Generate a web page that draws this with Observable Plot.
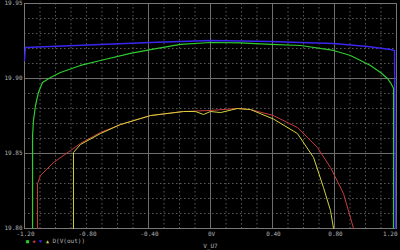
<!DOCTYPE html>
<html>
<head>
<meta charset="utf-8">
<script src="https://cdn.jsdelivr.net/npm/d3@7"></script>
<script src="https://cdn.jsdelivr.net/npm/@observablehq/plot@0.6"></script>
<style>
  html, body { margin: 0; padding: 0; background: #000; }
  #chart { position: relative; width: 400px; height: 250px; overflow: hidden; }
</style>
</head>
<body>
<div id="chart"></div>
<script>
// ---- Data ----
const greenX = [-1.148,-1.148,-1.142,-1.129,-1.110,-1.084,-1.032,-0.968,-0.839,-0.710,-0.516,-0.387,-0.194,0,0.194,0.387,0.581,0.794,0.903,0.968,1.032,1.097,1.142,1.161,1.181,1.181];
const greenY = [19.800,19.862,19.872,19.882,19.8907,19.8973,19.9007,19.904,19.9087,19.912,19.9167,19.9193,19.9227,19.924,19.9237,19.9227,19.922,19.9187,19.9153,19.912,19.9087,19.904,19.900,19.8973,19.8933,19.800];

const blueX = [-1.2,-1.194,-1.032,-0.710,-0.387,0,0.387,0.581,0.794,1.013,1.161,1.187,1.194];
const blueY = [19.912,19.9207,19.9213,19.9227,19.924,19.9253,19.9247,19.924,19.9233,19.9213,19.9193,19.9187,19.800];

const redX = [-1.116,-1.116,-1.097,-1.013,-0.903,-0.839,-0.710,-0.581,-0.387,-0.174,0,0.174,0.258,0.406,0.561,0.690,0.774,0.858,0.923];
const redY = [19.800,19.830,19.8353,19.844,19.852,19.8567,19.864,19.8693,19.8753,19.878,19.8787,19.880,19.8793,19.8753,19.8673,19.854,19.8407,19.8233,19.800];

const yellowX = [-0.884,-0.884,-0.839,-0.710,-0.581,-0.387,-0.174,-0.097,-0.045,0,0.065,0.174,0.258,0.406,0.561,0.665,0.729,0.774,0.794];
const yellowY = [19.800,19.8507,19.856,19.8633,19.8693,19.8753,19.878,19.878,19.876,19.878,19.8773,19.880,19.8793,19.873,19.8633,19.8473,19.8273,19.812,19.800];

const xTicks = [-1.2,-0.8,-0.4,0,0.4,0.8,1.2];
const xTickLabels = ["-1.20","-0.80","-0.40","0V","0.40","0.80","1.20"];
const yTicks = [19.80,19.85,19.90,19.95];
const yTickLabels = ["19.80","19.85","19.90","19.95"];
const xMajorGrid = [-0.4,0,0.4,0.8];
const yMajorGrid = [19.85,19.90];

const xLabel = "V_U7";
const legendSymbols = ["■","◆","▼","▲"];
const legendText = "D(V(out))";

// ---- Build ----
const colors = {green:"#2fcc2f", red:"#c83c3c", blue:"#3a26ee", yellow:"#d2d23c"};
const toPts = (xs, ys) => xs.map((x,i)=>({x, y: ys[i]}));
const xMap = new Map(xTicks.map((t,i)=>[t, xTickLabels[i]]));
const yMap = new Map(yTicks.map((t,i)=>[t, yTickLabels[i]]));
const xMinor = d3.range(-12, 13).map(k => k/10);
const yMinor = d3.range(1980, 1996).map(k => k/100);
const xTicksInner = xTicks.slice(0, -1);
const xTickLast = xTicks.slice(-1);

const plot = Plot.plot({
  width: 400,
  height: 250,
  marginLeft: 24,
  marginRight: 4,
  marginTop: 3,
  marginBottom: 22,
  style: {background: "#000", color: "#b4b4b4", fontFamily: "'DejaVu Sans Mono', monospace", fontSize: "6px"},
  x: {domain: [-1.2, 1.2], label: null},
  y: {domain: [19.80, 19.95], label: null},
  marks: [
    Plot.ruleX(xMinor, {stroke: "#5a5a5a", strokeDasharray: "1.5,2.5", strokeWidth: 1}),
    Plot.ruleY(yMinor, {stroke: "#5a5a5a", strokeDasharray: "1.5,2.5", strokeWidth: 1}),
    Plot.ruleX(xMajorGrid, {stroke: "#6e6e6e", strokeWidth: 1}),
    Plot.ruleY(yMajorGrid, {stroke: "#6e6e6e", strokeWidth: 1}),
    Plot.frame({stroke: "#777"}),
    Plot.axisX(xTicksInner, {tickSize: 0, tickPadding: 3, label: null, tickFormat: d => xMap.get(d), fill: "#b4b4b4", textAnchor: "middle", dx: 1}),
    Plot.axisX(xTickLast, {tickSize: 0, tickPadding: 3, label: null, tickFormat: d => xMap.get(d), fill: "#b4b4b4", textAnchor: "end", dx: 1}),
    Plot.axisY(yTicks, {tickSize: 0, tickPadding: 2, label: null, tickFormat: d => yMap.get(d), fill: "#b4b4b4"}),
    Plot.line(toPts(greenX, greenY), {x: "x", y: "y", stroke: colors.green, strokeWidth: 1.2}),
    Plot.line(toPts(redX, redY), {x: "x", y: "y", stroke: colors.red, strokeWidth: 1}),
    Plot.line(toPts(blueX, blueY), {x: "x", y: "y", stroke: colors.blue, strokeWidth: 1.4}),
    Plot.line(toPts(yellowX, yellowY), {x: "x", y: "y", stroke: colors.yellow, strokeWidth: 1}),
    Plot.text([legendSymbols[0]], {frameAnchor: "bottom-left", dx: 3, dy: 14, fill: colors.green, fontSize: 5, textAnchor: "middle"}),
    Plot.text([legendSymbols[1]], {frameAnchor: "bottom-left", dx: 9.5, dy: 14, fill: colors.red, fontSize: 5, textAnchor: "middle"}),
    Plot.text([legendSymbols[2]], {frameAnchor: "bottom-left", dx: 16, dy: 14, fill: colors.blue, fontSize: 5, textAnchor: "middle"}),
    Plot.text([legendSymbols[3]], {frameAnchor: "bottom-left", dx: 23, dy: 14, fill: colors.yellow, fontSize: 5, textAnchor: "middle"}),
    Plot.text([legendText], {frameAnchor: "bottom-left", dx: 28, dy: 14, fill: "#b4b4b4", textAnchor: "start"}),
    Plot.text([xLabel], {frameAnchor: "bottom", dy: 19.5, fill: "#b4b4b4"})
  ]
});
document.getElementById("chart").appendChild(plot);
</script>
</body>
</html>
